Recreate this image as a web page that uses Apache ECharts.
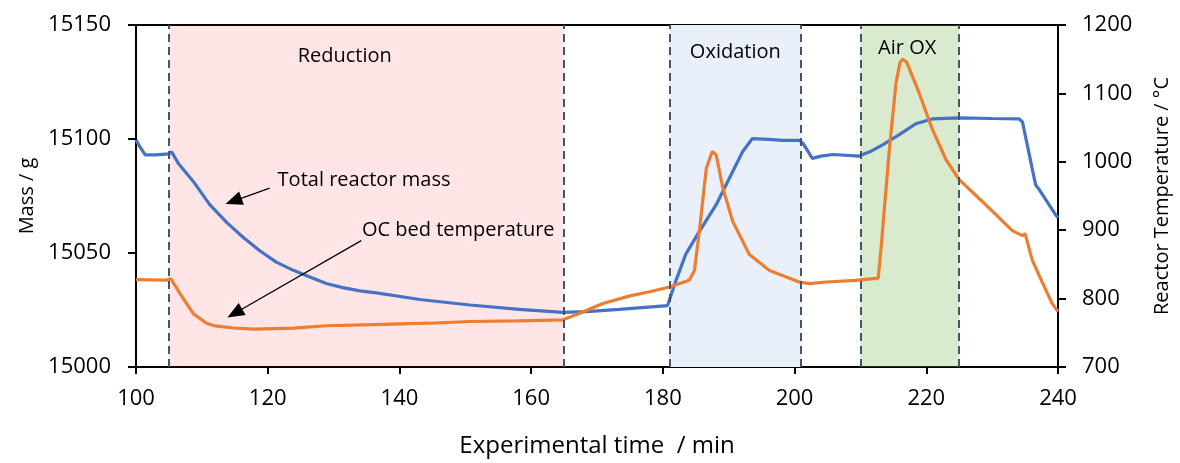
<!DOCTYPE html>
<html><head><meta charset="utf-8">
<script src="https://cdn.jsdelivr.net/npm/echarts@6/dist/echarts.min.js"></script>
<style>html,body{margin:0;padding:0;background:#fff}#c{width:1180px;height:463px}</style>
</head><body><div id="c"></div>
<script>
// ---- data ----
const massTime  = [100,100.5,101.4,103,105,105.4,106.5,108.7,111.2,113.8,116.3,118.8,121.3,123.9,126.4,128.9,131.4,134.0,136.5,143.1,150.7,158.2,164.8,168.4,173.4,180.7,181,182,183.5,185.6,188.1,190.1,192.1,193.6,196,198.2,200.7,201.3,202.7,204,205.8,209.3,209.8,211.5,213.3,215.9,218.4,220.9,225,230,234.1,234.6,236.6,237.1,239.6,240];
const massValue = [15099.6,15097,15093,15093,15093.5,15094.4,15089,15081.4,15071.2,15063.3,15056.8,15051,15046,15042.4,15039.5,15036.6,15034.8,15033.4,15032.5,15029.6,15027.2,15025.3,15024,15024.3,15025.3,15026.9,15027.5,15038,15049.6,15059.7,15071.2,15082.8,15094.4,15100.2,15099.8,15099.4,15099.4,15098,15091.5,15092.5,15093.2,15092.6,15092.5,15094.5,15097.3,15101.9,15106.7,15108.8,15109.3,15109,15108.8,15107.5,15079.9,15078,15066.9,15065.5];
const tempTime  = [100,104.6,105.3,106.2,106.7,108.7,110.7,112,114.8,118,123.9,128.9,134.5,144.6,150.7,158,164.8,167,170.9,175,178,181,184,184.8,185.6,186.6,187.5,188.1,189.1,190.6,193.1,196.2,200.7,202.2,204.8,209.3,212.7,213.1,214.4,215.4,216.0,216.4,217.0,217.9,218.9,220.9,223,225,228.5,233.1,234.6,235.0,235.2,236.1,237.6,239.1,240];
const tempValue = [827.6,827,829,815,807,778,764,760,757,755.4,756.8,760.3,761.7,764,766.5,767.5,769,777,792.9,804,810,817,826.7,841,904,990.5,1015,1010,962,913,865,841,824.3,821.8,824.3,826.7,830,870,1019,1115,1145,1150,1146,1125,1101,1048,1003,974,942,899,892,895,888,856,824,793,781];

const xTicks = {min:100, max:240, step:20};
const massTicks = {min:15000, max:15150, step:50};
const tempTicks = {min:700, max:1200, step:100};

const phaseNames = ['Reduction','Oxidation','Air OX'];
const phaseStart = [105,181,210];
const phaseEnd   = [165,201,225];

const annotTexts = ['Total reactor mass','OC bed temperature'];

// ---- chart ----
const FONT = 'Open Sans';
const chart = echarts.init(document.getElementById('c'), null, {renderer:'canvas'});
const massData = massTime.map((t,i)=>[t,massValue[i]]);
const tempData = tempTime.map((t,i)=>[t,tempValue[i]]);
const dash = {color:'#44546A', width:2, type:[8,5]};
const plain = v => String(v);

chart.setOption({
  animation:false,
  grid:{left:136,right:121,top:25,bottom:92,show:true,borderColor:'#000',borderWidth:2,backgroundColor:'transparent'},
  xAxis:{type:'value',min:xTicks.min,max:xTicks.max,interval:xTicks.step,
    name:'Experimental time  / min',nameLocation:'middle',nameGap:67,
    nameTextStyle:{fontFamily:FONT,fontSize:24,color:'#000'},
    axisLine:{lineStyle:{color:'#000',width:2}},
    axisTick:{show:true,length:7,lineStyle:{color:'#000',width:2}},
    axisLabel:{fontFamily:FONT,fontSize:22,color:'#000',margin:21,formatter:plain},
    splitLine:{show:false}},
  yAxis:[
    {type:'value',min:massTicks.min,max:massTicks.max,interval:massTicks.step,position:'left',
     name:'Mass / g',nameLocation:'middle',nameGap:98,
     nameTextStyle:{fontFamily:FONT,fontSize:20,color:'#000'},
     axisLine:{show:true,lineStyle:{color:'#000',width:2}},
     axisTick:{show:true,length:8,lineStyle:{color:'#000',width:2}},
     axisLabel:{fontFamily:FONT,fontSize:22,color:'#000',margin:25,formatter:plain},
     splitLine:{show:false}},
    {type:'value',min:tempTicks.min,max:tempTicks.max,interval:tempTicks.step,position:'right',
     name:'Reactor Temperature / °C',nameLocation:'middle',nameGap:94,
     nameTextStyle:{fontFamily:FONT,fontSize:20,color:'#000'},
     axisLine:{show:true,lineStyle:{color:'#000',width:2}},
     axisTick:{show:true,length:8,lineStyle:{color:'#000',width:2}},
     axisLabel:{fontFamily:FONT,fontSize:22,color:'#000',margin:24,formatter:plain},
     splitLine:{show:false}}
  ],
  series:[
    { // background band + dashed phase borders
      type:'line',data:[],z:1,silent:true,
      markArea:{silent:true,itemStyle:{color:'#EAF0F9'},data:[[{xAxis:phaseStart[1]},{xAxis:phaseEnd[1]}]]},
      markLine:{silent:true,symbol:'none',label:{show:false},lineStyle:dash,
        data:[phaseStart[0],phaseEnd[0],phaseStart[1],phaseEnd[1],phaseStart[2],phaseEnd[2]].map(v=>({xAxis:v}))}
    },
    {name:'Total reactor mass',type:'line',yAxisIndex:0,data:massData,z:3,showSymbol:false,
      lineStyle:{color:'#4472C4',width:3.2},itemStyle:{color:'#4472C4'}},
    {name:'OC bed temperature',type:'line',yAxisIndex:1,data:tempData,z:4,showSymbol:false,
      lineStyle:{color:'#ED7D31',width:3.2},itemStyle:{color:'#ED7D31'}},
    { // translucent overlays
      type:'line',data:[],z:6,silent:true,
      markArea:{silent:true,data:[
        [{xAxis:phaseStart[0],itemStyle:{color:'rgba(255,0,0,0.1)'}},{xAxis:phaseEnd[0]}],
        [{xAxis:phaseStart[2],itemStyle:{color:'rgba(112,173,71,0.26)'}},{xAxis:phaseEnd[2]}]
      ]}
    },
    { // annotations
      type:'line',data:[],z:8,silent:true,yAxisIndex:0,
      markPoint:{silent:true,symbol:'circle',symbolSize:0,data:[
        {coord:[131.7,15136.1],label:{show:true,formatter:phaseNames[0],position:'inside',fontFamily:FONT,fontSize:20,color:'#000'}},
        {coord:[191,15137.9],label:{show:true,formatter:phaseNames[1],position:'inside',fontFamily:FONT,fontSize:20,color:'#000'}},
        {coord:[217.1,15140],label:{show:true,formatter:phaseNames[2],position:'inside',fontFamily:FONT,fontSize:20,color:'#000'}},
        {coord:[121.5,15082],label:{show:true,formatter:annotTexts[0],position:'right',distance:0,fontFamily:FONT,fontSize:20,color:'#000'}},
        {coord:[134.3,15059.8],label:{show:true,formatter:annotTexts[1],position:'right',distance:0,fontFamily:FONT,fontSize:20,color:'#000'}}
      ]},
      markLine:{silent:true,label:{show:false},symbol:['none','triangle'],symbolSize:[14,17],
        lineStyle:{color:'#000',width:1.3,type:'solid'},
        data:[
          [{coord:[120.3,15078.5]},{coord:[114.8,15072.8]}],
          [{coord:[134.2,15055.4]},{coord:[115.0,15023.6]}]
        ]}
    }
  ]
});
</script></body></html>
